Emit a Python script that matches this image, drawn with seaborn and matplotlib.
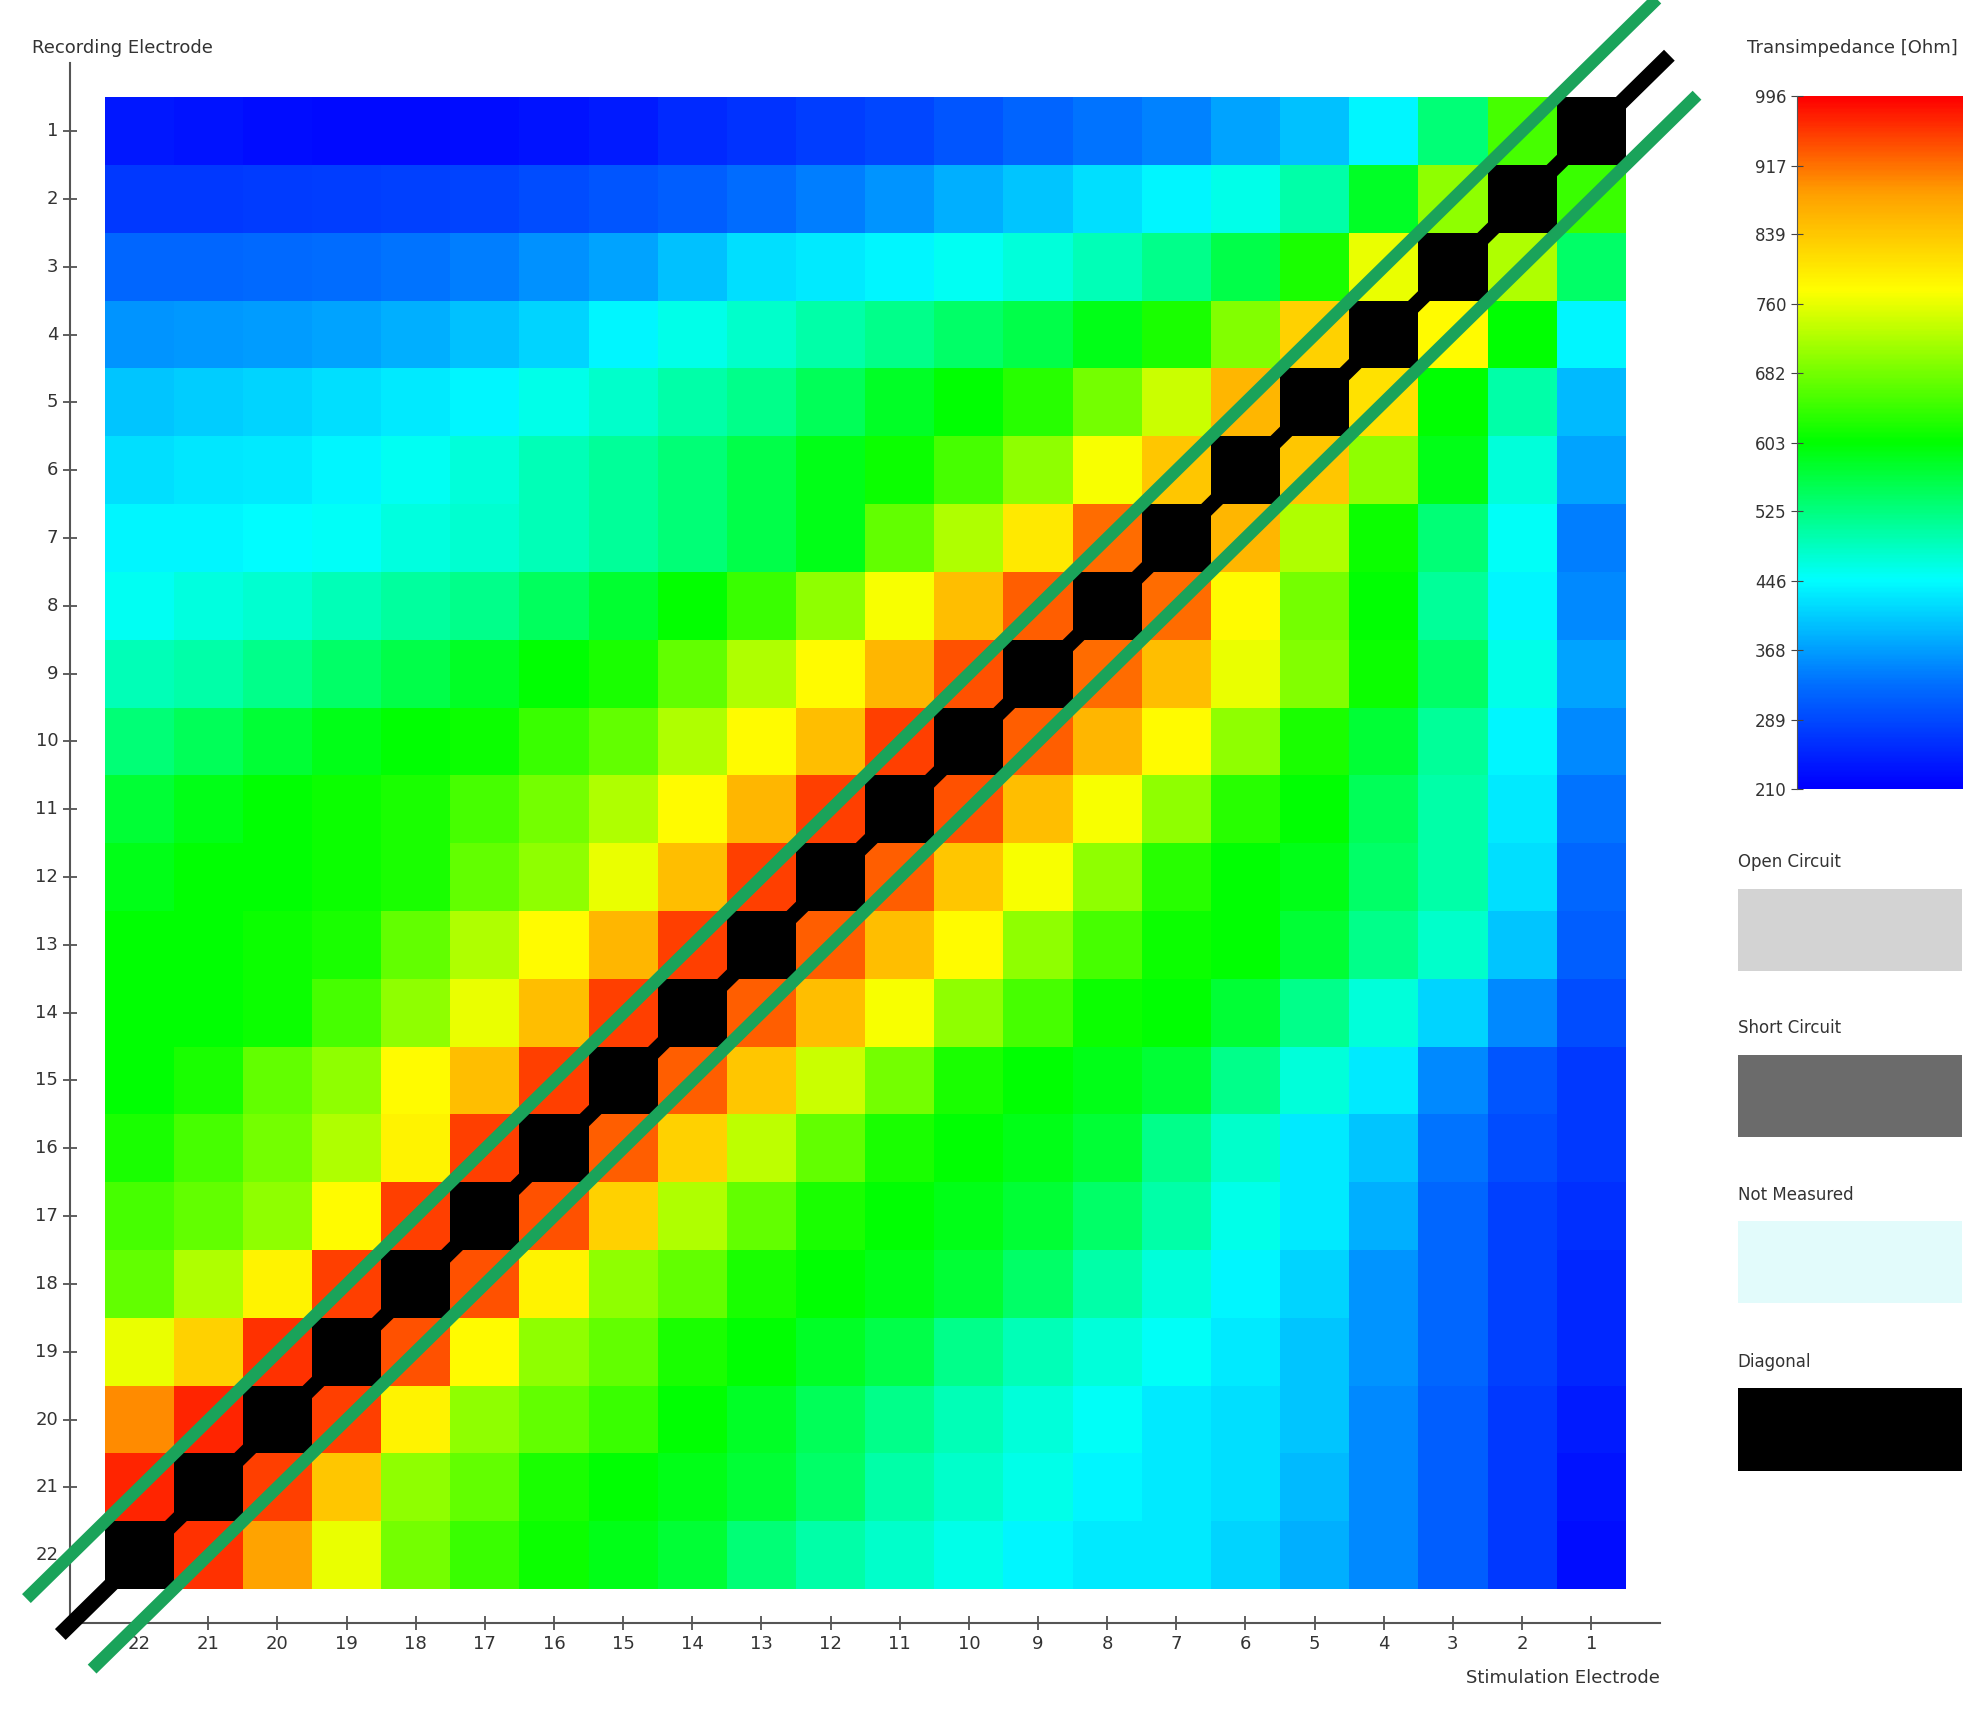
import numpy as np
import pandas as pd
import matplotlib
matplotlib.use("Agg")
import matplotlib.pyplot as plt
from matplotlib.colors import LinearSegmentedColormap, ListedColormap
import seaborn as sns

stim_labels = [str(s) for s in range(22, 0, -1)]   # display columns: stim 22 .. 1
rec_labels = [str(r) for r in range(1, 23)]        # display rows: rec 1 .. 22
D = np.nan
row01 = [235,230,225,222,222,225,230,240,255,265,275,285,300,315,330,345,370,395,440,530,650,D]
row02 = [270,270,272,275,278,282,290,300,310,325,340,360,380,400,420,440,460,500,580,700,D,640]
row03 = [320,320,322,325,330,340,355,370,395,420,430,440,455,470,490,520,560,620,760,D,720,540]
row04 = [360,362,365,370,380,395,410,440,460,480,500,520,540,560,590,620,690,830,D,780,600,440]
row05 = [400,405,410,420,430,440,460,480,500,520,550,580,600,630,680,740,860,D,810,600,500,390]
row06 = [420,425,430,440,455,470,490,510,530,560,590,610,650,700,770,840,D,840,700,590,470,370]
row07 = [440,440,445,450,465,475,490,510,530,560,590,670,720,800,920,D,860,720,610,530,450,340]
row08 = [455,465,475,490,505,520,545,575,605,640,700,770,850,930,D,920,780,680,600,510,440,350]
row09 = [490,500,520,540,560,580,600,620,670,720,780,860,940,D,920,850,760,690,610,540,460,370]
row10 = [530,550,570,590,600,610,640,670,720,780,850,950,D,930,860,780,700,620,570,510,440,350]
row11 = [570,590,600,610,620,650,680,720,780,860,950,D,940,850,770,700,630,600,550,500,430,330]
row12 = [590,600,600,610,620,670,700,760,850,950,D,930,840,770,700,630,600,590,540,500,420,320]
row13 = [600,600,610,620,670,720,780,860,950,D,930,850,780,700,650,610,600,570,520,480,400,310]
row14 = [600,600,610,650,700,760,850,950,D,930,850,770,700,650,610,600,570,520,470,410,350,290]
row15 = [600,620,670,700,780,850,950,D,930,840,740,680,620,600,590,570,520,470,430,350,300,270]
row16 = [620,650,680,720,790,950,D,930,830,730,670,620,600,590,570,520,480,430,400,330,290,270]
row17 = [650,670,700,780,950,D,940,830,720,670,620,600,590,570,540,500,460,430,380,320,280,260]
row18 = [670,720,790,950,D,940,790,700,670,620,600,590,570,540,500,470,440,410,360,320,280,250]
row19 = [760,830,960,D,940,780,700,670,620,600,580,560,520,490,470,450,430,400,360,320,280,250]
row20 = [900,970,D,950,790,700,670,640,600,580,550,520,490,470,450,430,420,400,350,310,270,240]
row21 = [970,D,950,840,700,670,620,600,590,570,540,500,480,460,440,430,420,390,350,310,270,230]
row22 = [D,960,880,760,680,640,610,590,570,530,500,480,460,440,430,430,410,380,350,310,270,225]
rows = [row01,row02,row03,row04,row05,row06,row07,row08,row09,row10,row11,
        row12,row13,row14,row15,row16,row17,row18,row19,row20,row21,row22]
cbar_ticks = [210, 289, 368, 446, 525, 603, 682, 760, 839, 917, 996]
legend_items = ["Open Circuit", "Short Circuit", "Not Measured", "Diagonal"]
legend_colors = ["#d3d3d3", "#6b6b6b", "#e2fbfb", "#000000"]

df = pd.DataFrame(rows, index=rec_labels, columns=stim_labels)
diag = df.isna().astype(float).where(df.isna())

cmap = LinearSegmentedColormap.from_list("tz", [
    (0.0, "#0000ff"), (0.15, "#0070ff"), (0.30, "#00ffff"), (0.50, "#00ff00"),
    (0.72, "#ffff00"), (0.86, "#ffa000"), (1.0, "#ff0000")])

fig = plt.figure(figsize=(19.88, 17.12), dpi=100)
ax = fig.add_axes([0.0352, 0.052, 0.800, 0.911])
sns.heatmap(df, ax=ax, cmap=cmap, vmin=210, vmax=996, cbar=False)
sns.heatmap(diag, ax=ax, cmap=ListedColormap(["black"]), cbar=False)
ax.set_xticks(np.arange(22) + 0.5)
ax.set_xticklabels(stim_labels, rotation=0, fontsize=13, color="#333333")
ax.set_yticks(np.arange(22) + 0.5)
ax.set_yticklabels(rec_labels, rotation=0, fontsize=13, color="#333333")
ax.set_xlabel(""); ax.set_ylabel("")
ax.tick_params(axis="both", direction="inout", length=10, width=1.2, color="#444444")
for s in ["top", "right"]:
    ax.spines[s].set_visible(False)
for s in ["left", "bottom"]:
    ax.spines[s].set_visible(True)
    ax.spines[s].set_color("#555555")
    ax.spines[s].set_linewidth(1.5)

# diagonal guide lines
ax.plot([-0.64, 22.63], [22.67, -0.62], color="black", lw=11, solid_capstyle="butt", clip_on=False, zorder=5)
ax.plot([-1.13, 23.12], [22.14, -2.12], color="#1aa35a", lw=9, solid_capstyle="butt", clip_on=False, zorder=6)
ax.plot([-0.18, 23.03], [23.18, -0.03], color="#1aa35a", lw=9, solid_capstyle="butt", clip_on=False, zorder=6)
ax.set_xlim(-0.5, 22.5)
ax.set_ylim(22.5, -0.5)

fig.text(0.016, 0.972, "Recording Electrode", fontsize=13, color="#333333", va="center")
fig.text(0.835, 0.020, "Stimulation Electrode", fontsize=13, color="#333333", ha="right", va="center")

# colorbar
cax = fig.add_axes([0.904, 0.539, 0.083, 0.405])
grad = np.linspace(210, 996, 400).reshape(-1, 1)
cax.imshow(grad, aspect="auto", cmap=cmap, origin="lower", extent=[0, 1, 210, 996], vmin=210, vmax=996)
cax.set_xticks([])
cax.set_yticks(cbar_ticks)
cax.set_yticklabels([str(t) for t in cbar_ticks], fontsize=12, color="#333333")
cax.tick_params(axis="y", direction="inout", length=8, color="#444444")
for s in cax.spines.values():
    s.set_visible(False)
cax.spines["left"].set_visible(True)
cax.spines["left"].set_color("#555555")
fig.text(0.932, 0.972, "Transimpedance [Ohm]", fontsize=13, color="#333333", ha="center", va="center")

box_tops = [0.481, 0.384, 0.287, 0.189]
for name, col, top in zip(legend_items, legend_colors, box_tops):
    fig.text(0.874, top + 0.010, name, fontsize=12, color="#333333", va="bottom")
    bax = fig.add_axes([0.874, top - 0.048, 0.113, 0.048])
    bax.set_facecolor(col)
    bax.set_xticks([]); bax.set_yticks([])
    for s in bax.spines.values():
        s.set_visible(False)

fig.savefig("out.png", dpi=100, facecolor="white")
